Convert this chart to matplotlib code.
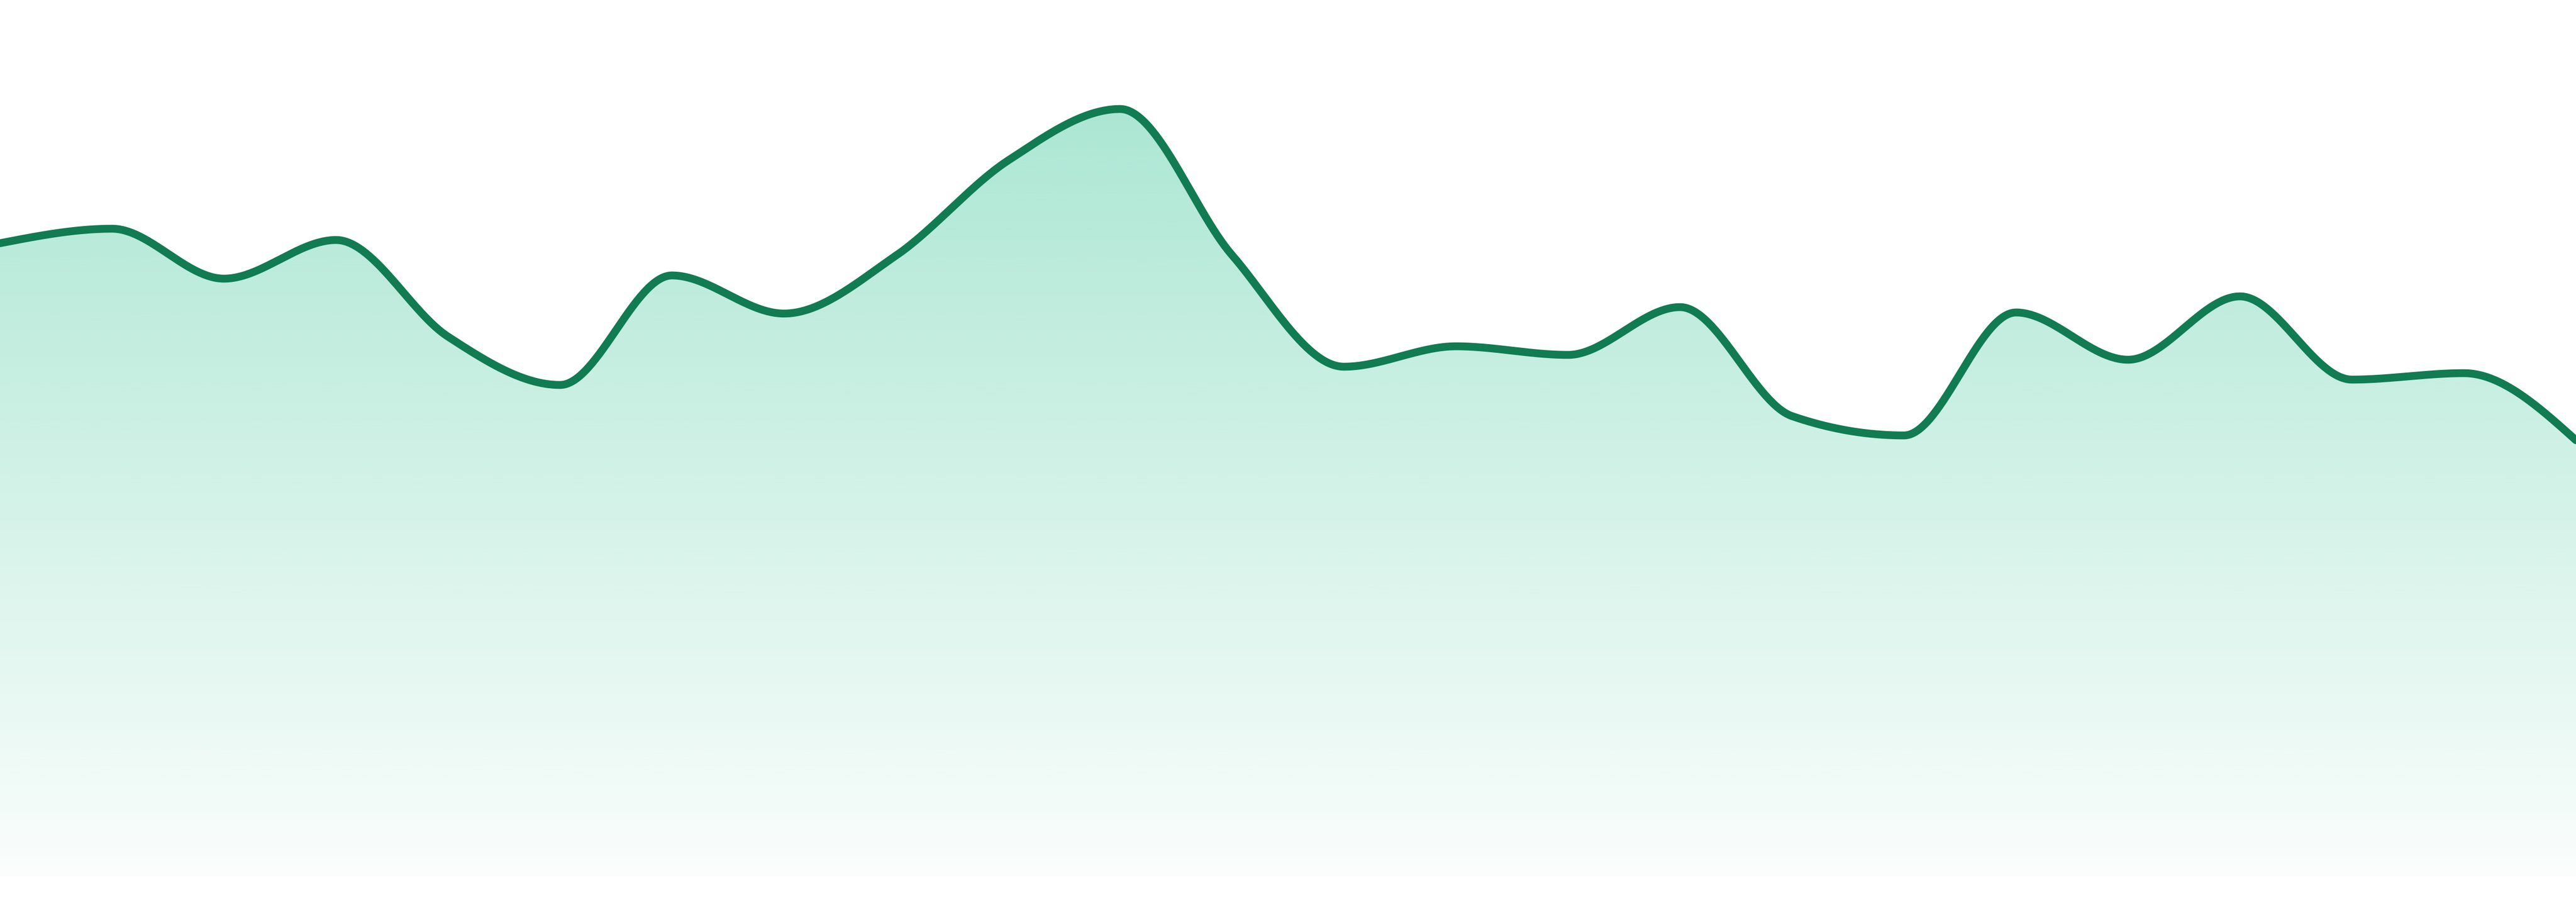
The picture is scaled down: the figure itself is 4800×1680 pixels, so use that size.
import matplotlib
matplotlib.use("Agg")
import matplotlib.pyplot as plt
import numpy as np
from matplotlib.colors import to_rgb

# values (one per step, 24 points)
steps = list(range(24))
values = [117.9, 120.6, 111.3, 118.5, 100.5, 91.5, 111.9, 104.8, 115.6, 133.3,
          142.9, 115.7, 94.9, 98.7, 97.1, 106.0, 85.7, 82.1, 105.0, 96.2,
          108.0, 92.5, 93.7, 81.2]

line_color = "#117b52"
fill_color = "#10b981"


def monotone_x(x, y, n=60):
    # same idea as d3.curveMonotoneX (Steffen-style slopes, cubic hermite)
    x = np.asarray(x, float)
    y = np.asarray(y, float)
    h = np.diff(x)
    s = np.diff(y) / h
    t = np.zeros_like(y)
    for i in range(1, len(x) - 1):
        h0, h1 = h[i - 1], h[i]
        s0, s1 = s[i - 1], s[i]
        p = (s0 * h1 + s1 * h0) / (h0 + h1)
        t[i] = (np.sign(s0) + np.sign(s1)) * min(abs(s0), abs(s1), 0.5 * abs(p))
    t[0] = (3 * s[0] - t[1]) / 2
    t[-1] = (3 * s[-1] - t[-2]) / 2
    xs, ys = [], []
    for i in range(len(x) - 1):
        u = np.linspace(0, 1, n, endpoint=(i == len(x) - 2))
        dx = h[i]
        h00 = 2 * u**3 - 3 * u**2 + 1
        h10 = u**3 - 2 * u**2 + u
        h01 = -2 * u**3 + 3 * u**2
        h11 = u**3 - u**2
        xs.append(x[i] + u * dx)
        ys.append(h00 * y[i] + h10 * dx * t[i] + h01 * y[i + 1] + h11 * dx * t[i + 1])
    return np.concatenate(xs), np.concatenate(ys)


xs, ys = monotone_x(steps, values)

fig = plt.figure(figsize=(16, 5.6), dpi=300)
ax = fig.add_axes([0, 48 / 1680, 1, 1632 / 1680])
ax.set_xlim(steps[0], steps[-1])
ax.set_ylim(0, 163.2)
ax.axis("off")

# gradient fill clipped to the area under the curve
top = max(values)
rgb = to_rgb(fill_color)
grad = np.zeros((256, 1, 4))
grad[:, 0, :3] = rgb
grad[:, 0, 3] = np.linspace(0.02, 0.35, 256)
area = ax.fill_between(xs, ys, 0, facecolor="none", edgecolor="none")
im = ax.imshow(grad, extent=[steps[0], steps[-1], 0, top], origin="lower",
               aspect="auto", interpolation="bilinear", zorder=1)
im.set_clip_path(area.get_paths()[0], transform=ax.transData)

ax.plot(xs, ys, color=line_color, lw=3.5, solid_capstyle="round", zorder=2)

fig.savefig("out.png", dpi=300, facecolor="white")
